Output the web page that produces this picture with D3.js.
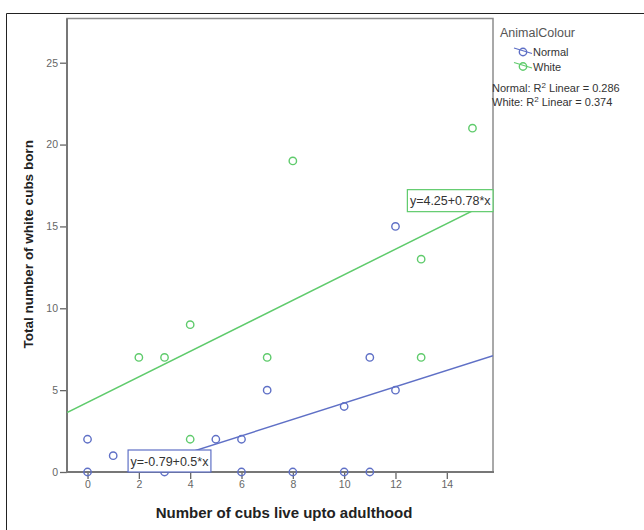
<!DOCTYPE html>
<html>
<head>
<meta charset="utf-8">
<script src="https://cdn.jsdelivr.net/npm/d3@7"></script>
<style>
  body { margin: 0; background: #fff; }
  text { font-family: "Liberation Sans", Arial, sans-serif; }
</style>
</head>
<body>
<div id="chart"></div>
<script>
// data
var normalX = [0, 0, 1, 3, 5, 6, 6, 7, 8, 10, 10, 11, 11, 12, 12];
var normalY = [2, 0, 1, 0, 2, 2, 0, 5, 0, 4, 0, 7, 0, 5, 15];
var whiteX = [2, 3, 4, 4, 7, 8, 13, 13, 15];
var whiteY = [7, 7, 9, 2, 7, 19, 13, 7, 21];

var groups = ["Normal", "White"];
var fitIntercept = [-0.79, 4.25];
var fitSlope = [0.5, 0.78];
var fitLabels = ["y=-0.79+0.5*x", "y=4.25+0.78*x"];
var rSquared = ["0.286", "0.374"];

var xTicks = [0, 2, 4, 6, 8, 10, 12, 14];
var yTicks = [0, 5, 10, 15, 20, 25];

var colors = ["#5f70c6", "#5fcb6c"];

var W = 644, H = 530;
var pLeft = 67, pTop = 18.5, pRight = 493, pBottom = 472;

var svg = d3.select("#chart").append("svg")
  .attr("width", W).attr("height", H);

// outer frame (only top and left show in the picture)
svg.append("line").attr("x1", 6.5).attr("y1", 13.5).attr("x2", W).attr("y2", 13.5)
  .style("stroke", "#222").style("stroke-width", 1);
svg.append("line").attr("x1", 6.5).attr("y1", 13.5).attr("x2", 6.5).attr("y2", H)
  .style("stroke", "#222").style("stroke-width", 1);

var x = d3.scaleLinear().domain([-0.8, 15.8]).range([pLeft, pRight]);
var y = d3.scaleLinear().domain([0, 27.7]).range([pBottom, pTop]);

svg.append("clipPath").attr("id", "plotclip")
  .append("rect").attr("x", pLeft).attr("y", pTop)
  .attr("width", pRight - pLeft).attr("height", pBottom - pTop);

// plot box
svg.append("rect").attr("x", pLeft).attr("y", pTop)
  .attr("width", pRight - pLeft).attr("height", pBottom - pTop)
  .style("fill", "none").style("stroke", "#8c8c8c").style("stroke-width", 1.5);

// axes
var xAxis = svg.append("g").attr("transform", "translate(0," + pBottom + ")")
  .call(d3.axisBottom(x).tickValues(xTicks).tickSize(7).tickPadding(2).tickSizeOuter(0));
var yAxis = svg.append("g").attr("transform", "translate(" + pLeft + ",0)")
  .call(d3.axisLeft(y).tickValues(yTicks).tickSize(7).tickPadding(2).tickSizeOuter(0));

[xAxis, yAxis].forEach(function(a){
  a.select(".domain").remove();
  a.selectAll(".tick line").style("stroke", "#666").style("stroke-width", 1.3);
  a.selectAll(".tick text").style("fill", "#666").style("font-size", "10.5px")
    .style("font-family", "'Liberation Sans', Arial, sans-serif");
});

// heavier axis lines
svg.append("line").attr("x1", pLeft).attr("y1", pTop).attr("x2", pLeft).attr("y2", pBottom + 1)
  .style("stroke", "#777").style("stroke-width", 2);
svg.append("line").attr("x1", pLeft).attr("y1", pBottom).attr("x2", pRight + 1).attr("y2", pBottom)
  .style("stroke", "#777").style("stroke-width", 2);

// axis titles
svg.append("text").attr("x", (pLeft + pRight) / 2 + 4).attr("y", 518)
  .attr("text-anchor", "middle").style("font-size", "15px").style("font-weight", "bold")
  .style("fill", "#222").text("Number of cubs live upto adulthood");
svg.append("text").attr("transform", "translate(33," + ((pTop + pBottom) / 2 - 1) + ") rotate(-90)")
  .attr("text-anchor", "middle").style("font-size", "13.5px").style("font-weight", "bold")
  .style("fill", "#222").text("Total number of white cubs born");

var plot = svg.append("g").attr("clip-path", "url(#plotclip)");

// points
var series = [
  d3.zip(normalX, normalY),
  d3.zip(whiteX, whiteY)
];
series.forEach(function(pts, i){
  svg.append("g").selectAll("circle").data(pts).enter().append("circle")
    .attr("cx", function(d){ return x(d[0]); })
    .attr("cy", function(d){ return y(d[1]); })
    .attr("r", 3.7)
    .style("fill", "none").style("stroke", colors[i]).style("stroke-width", 1.4);
});

// fit lines
var xd = x.domain();
groups.forEach(function(g, i){
  var a = fitIntercept[i], b = fitSlope[i];
  plot.append("line")
    .attr("x1", x(xd[0])).attr("y1", y(a + b * xd[0]))
    .attr("x2", x(xd[1])).attr("y2", y(a + b * xd[1]))
    .style("stroke", colors[i]).style("stroke-width", 1.5);
});

// equation labels: Normal at the line's visible start, White at its end
groups.forEach(function(g, i){
  var a = fitIntercept[i], b = fitSlope[i];
  var lg = svg.append("g");
  var rect = lg.append("rect");
  var t = lg.append("text").style("font-size", "12.5px").style("fill", "#333").text(fitLabels[i]);
  var tw = t.node().getComputedTextLength();
  var bw = tw + 5, bh = 22;
  var bx, by;
  if (i === 0) {
    var xs = Math.max(xd[0], (0 - a) / b);
    bx = x(xs); by = y(Math.max(0, a + b * xs)) - bh;
  } else {
    bx = x(xd[1]) - bw; by = y(a + b * xd[1]) - bh / 2;
  }
  rect.attr("x", bx).attr("y", by).attr("width", bw).attr("height", bh)
    .style("fill", "#fff").style("stroke", colors[i]).style("stroke-width", 1.2);
  t.attr("x", bx + 2.5).attr("y", by + bh / 2 + 4.5);
});

// legend
svg.append("text").attr("x", 500).attr("y", 37).style("font-size", "12.5px")
  .style("fill", "#555").text("AnimalColour");
groups.forEach(function(g, i){
  var cy = 52 + i * 14.5;
  svg.append("line").attr("x1", 514).attr("y1", cy - 4).attr("x2", 532).attr("y2", cy + 1.5)
    .style("stroke", colors[i]).style("stroke-width", 1.3);
  svg.append("circle").attr("cx", 523).attr("cy", cy).attr("r", 3.7)
    .style("fill", "none").style("stroke", colors[i]).style("stroke-width", 1.4);
  svg.append("text").attr("x", 533).attr("y", cy + 4).style("font-size", "11px")
    .style("fill", "#333").text(g);
});
groups.forEach(function(g, i){
  var t = svg.append("text").attr("x", 492).attr("y", 92 + i * 14).style("font-size", "11px")
    .style("fill", "#333");
  t.append("tspan").text(g + ": R");
  t.append("tspan").attr("dy", -4).style("font-size", "8px").text("2");
  t.append("tspan").attr("dy", 4).text(" Linear = " + rSquared[i]);
});
</script>
</body>
</html>
